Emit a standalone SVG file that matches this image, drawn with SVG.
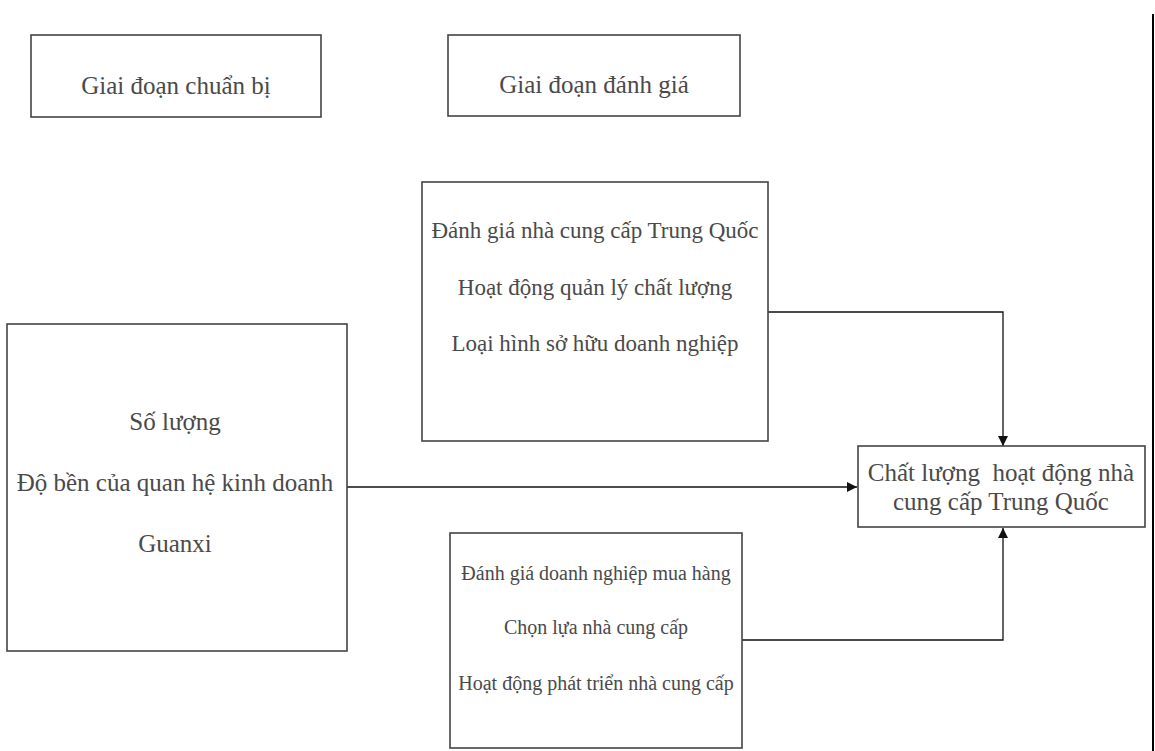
<svg xmlns="http://www.w3.org/2000/svg" width="1155" height="751" viewBox="0 0 1155 751">
<style>
.box{fill:#fff;stroke:#444;stroke-width:1.6}
.t{font-family:"Liberation Serif","Times New Roman",serif;fill:#4a4a4a;text-anchor:middle}
.h{font-size:25px}
.m{font-size:23px}
.s{font-size:20px}
.c{fill:none;stroke:#111;stroke-width:1.3}
</style>
<defs>
<marker id="arr" viewBox="0 0 10 10" refX="10" refY="5" markerWidth="10" markerHeight="10" markerUnits="userSpaceOnUse" orient="auto">
<path d="M0,0 L10,5 L0,10 Z" fill="#111"/>
</marker>
</defs>
<rect width="1155" height="751" fill="#fff"/>
<line x1="1153" y1="14" x2="1153" y2="751" stroke="#000" stroke-width="2"/>
<g id="connectors">
<path class="c" d="M347,487 L857,487" marker-end="url(#arr)"/>
<path class="c" d="M768,312 L1003,312 L1003,446" marker-end="url(#arr)"/>
<path class="c" d="M742,640 L1003,640 L1003,528" marker-end="url(#arr)"/>
</g>
<g id="node-prep">
<rect class="box" x="31" y="35" width="290" height="82"/>
<text class="t h" x="176" y="94">Giai đoạn chuẩn bị</text>
</g>
<g id="node-eval">
<rect class="box" x="448" y="35" width="292" height="81"/>
<text class="t h" x="594" y="93">Giai đoạn đánh giá</text>
</g>
<g id="node-supplier">
<rect class="box" x="422" y="182" width="346" height="259"/>
<text class="t m" x="595" y="238">Đánh giá nhà cung cấp Trung Quốc</text>
<text class="t m" x="595" y="295">Hoạt động quản lý chất lượng</text>
<text class="t m" x="595" y="351">Loại hình sở hữu doanh nghiệp</text>
</g>
<g id="node-relation">
<rect class="box" x="7" y="324" width="340" height="327"/>
<text class="t h" x="175" y="430">Số lượng</text>
<text class="t h" x="175" y="491">Độ bền của quan hệ kinh doanh</text>
<text class="t h" x="175" y="552">Guanxi</text>
</g>
<g id="node-buyer">
<rect class="box" x="450" y="533" width="292" height="215"/>
<text class="t s" x="596" y="580">Đánh giá doanh nghiệp mua hàng</text>
<text class="t s" x="596" y="634">Chọn lựa nhà cung cấp</text>
<text class="t s" x="596" y="690">Hoạt động phát triển nhà cung cấp</text>
</g>
<g id="node-quality">
<rect class="box" x="858" y="446" width="287" height="81"/>
<text class="t h" x="1001" y="481" xml:space="preserve">Chất lượng  hoạt động nhà</text>
<text class="t h" x="1001" y="510">cung cấp Trung Quốc</text>
</g>
</svg>
